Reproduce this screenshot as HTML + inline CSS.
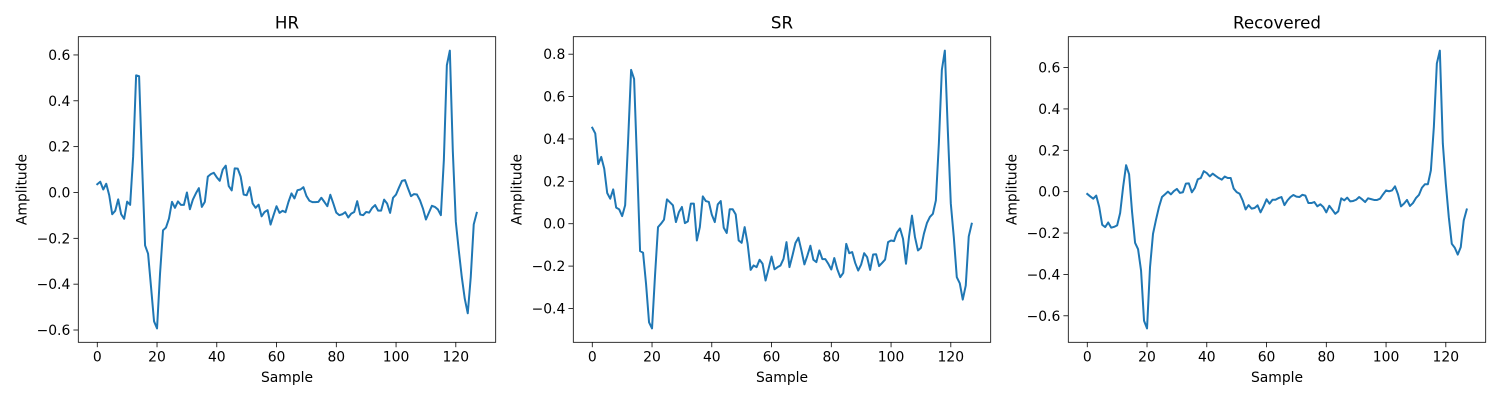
<!DOCTYPE html>
<html><head><meta charset="utf-8"><style>
body{margin:0;background:#fff;}
svg{display:block;font-family:"DejaVu Sans","Liberation Sans",sans-serif;}
</style></head><body>
<svg id="fig" width="1500" height="400" viewBox="0 0 1500 400"></svg>
<script>
const titles = ["HR","SR","Recovered"];
const hrValues = [0.036,0.047,0.013,0.038,-0.012,-0.095,-0.08,-0.03,-0.095,-0.115,-0.04,-0.054,0.156,0.511,0.507,0.12,-0.231,-0.267,-0.413,-0.562,-0.593,-0.355,-0.165,-0.153,-0.114,-0.041,-0.067,-0.039,-0.054,-0.054,0,-0.073,-0.031,-0.004,0.019,-0.063,-0.041,0.069,0.08,0.086,0.066,0.051,0.1,0.117,0.028,0.009,0.105,0.104,0.069,-0.009,-0.012,0.023,-0.048,-0.067,-0.053,-0.104,-0.085,-0.077,-0.14,-0.099,-0.06,-0.089,-0.08,-0.086,-0.041,-0.004,-0.026,0.01,0.013,0.023,-0.015,-0.036,-0.042,-0.042,-0.041,-0.023,-0.041,-0.06,-0.01,-0.048,-0.088,-0.099,-0.095,-0.086,-0.109,-0.092,-0.085,-0.038,-0.096,-0.099,-0.085,-0.088,-0.067,-0.055,-0.079,-0.079,-0.031,-0.048,-0.089,-0.023,-0.009,0.022,0.051,0.054,0.018,-0.016,-0.007,-0.009,-0.034,-0.07,-0.118,-0.088,-0.058,-0.063,-0.074,-0.099,0.142,0.555,0.619,0.18,-0.128,-0.253,-0.369,-0.464,-0.527,-0.369,-0.139,-0.089];
const srValues = [0.453,0.426,0.281,0.315,0.26,0.145,0.118,0.162,0.076,0.068,0.036,0.087,0.394,0.726,0.683,0.284,-0.129,-0.137,-0.284,-0.465,-0.494,-0.244,-0.016,0,0.019,0.115,0.101,0.087,0.008,0.055,0.079,0.003,0.011,0.095,0.095,-0.079,-0.016,0.129,0.107,0.103,0.043,0.008,0.091,0.107,-0.019,-0.044,0.068,0.068,0.044,-0.079,-0.09,-0.016,-0.095,-0.218,-0.197,-0.205,-0.17,-0.189,-0.268,-0.213,-0.155,-0.215,-0.205,-0.197,-0.166,-0.087,-0.205,-0.15,-0.091,-0.066,-0.126,-0.192,-0.15,-0.104,-0.17,-0.181,-0.126,-0.167,-0.167,-0.189,-0.216,-0.162,-0.215,-0.252,-0.232,-0.095,-0.139,-0.134,-0.185,-0.221,-0.192,-0.139,-0.158,-0.218,-0.145,-0.144,-0.2,-0.185,-0.169,-0.087,-0.079,-0.082,-0.041,-0.022,-0.071,-0.189,-0.063,0.038,-0.063,-0.126,-0.114,-0.047,0.003,0.032,0.047,0.11,0.379,0.726,0.817,0.44,0.095,-0.063,-0.252,-0.281,-0.358,-0.292,-0.06,0];
const recValues = [-0.011,-0.023,-0.034,-0.019,-0.074,-0.16,-0.171,-0.149,-0.174,-0.17,-0.163,-0.103,0.023,0.128,0.084,-0.099,-0.247,-0.278,-0.381,-0.624,-0.661,-0.365,-0.204,-0.136,-0.074,-0.026,-0.013,0,-0.013,0.003,0.013,-0.006,-0.003,0.039,0.04,-0.003,0.018,0.06,0.066,0.099,0.09,0.074,0.087,0.076,0.066,0.058,0.073,0.066,0.066,0.015,-0.002,-0.01,-0.042,-0.086,-0.065,-0.082,-0.079,-0.066,-0.1,-0.071,-0.037,-0.058,-0.039,-0.039,-0.031,-0.026,-0.065,-0.042,-0.026,-0.016,-0.024,-0.026,-0.015,-0.019,-0.055,-0.055,-0.05,-0.071,-0.061,-0.074,-0.1,-0.068,-0.087,-0.107,-0.095,-0.032,-0.042,-0.029,-0.047,-0.045,-0.039,-0.026,-0.037,-0.05,-0.032,-0.036,-0.04,-0.04,-0.034,-0.013,0.006,0.002,0.006,0.026,-0.013,-0.071,-0.058,-0.04,-0.069,-0.055,-0.031,-0.016,0.019,0.036,0.036,0.103,0.313,0.62,0.682,0.233,0.039,-0.123,-0.252,-0.271,-0.304,-0.268,-0.139,-0.086];
const xTickLabels = [0,20,40,60,80,100,120];
const series = [hrValues, srValues, recValues];

const NS = "http://www.w3.org/2000/svg";
const svg = document.getElementById("fig");
function mk(tag, attrs, parent){const e=document.createElementNS(NS,tag);for(const k in attrs)e.setAttribute(k,attrs[k]);(parent||svg).appendChild(e);return e;}
const lefts=[78.3,573.3,1068.3], W=417.4, T=36.7, B=342.3;
const slugs=["hr","sr","recovered"];
series.forEach((vals,p)=>{
  const g=mk("g",{});
  
  
  const L=lefts[p];
  const n=vals.length;
  const xm=(n-1)*0.05, x0=-xm, x1=(n-1)+xm;
  const mn=Math.min(...vals), mx=Math.max(...vals), ym=(mx-mn)*0.05;
  const y0=mn-ym, y1=mx+ym;
  const sx=v=>L+(v-x0)/(x1-x0)*W;
  const sy=v=>B-(v-y0)/(y1-y0)*(B-T);
  xTickLabels.forEach(t=>{
    const x=sx(t);
    const tk=mk("line",{x1:x,x2:x,y1:B,y2:B+4.9,stroke:"#000","stroke-width":0.8},g);
    
    
    const tl=mk("text",{x:x,y:B+19,"font-size":13.9,"text-anchor":"middle",fill:"#000"},g);
    
    
    tl.textContent=t;
  });
  for(let k=Math.ceil(y0/0.2-1e-9);k*0.2<=y1+1e-9;k++){
    const v=k*0.2, y=sy(v);
    const tk=mk("line",{x1:L-4.9,x2:L,y1:y,y2:y,stroke:"#000","stroke-width":0.8},g);
    
    
    const tl=mk("text",{x:L-8,y:y+5,"font-size":13.9,"text-anchor":"end",fill:"#000"},g);
    
    
    tl.textContent=(Math.abs(v)<1e-9?0:v).toFixed(1).replace("-","\u2212");
  }
  const pts=vals.map((v,i)=>sx(i).toFixed(2)+","+sy(v).toFixed(2)).join(" ");
  const line=mk("polyline",{points:pts,fill:"none",stroke:"#1f77b4","stroke-width":2,"stroke-linejoin":"round","stroke-linecap":"square"},g);
  
  
  const frame=mk("rect",{x:L,y:T,width:W,height:B-T,fill:"none",stroke:"#000","stroke-width":0.8},g);
  
  
  const tt=mk("text",{x:L+W/2,y:T-8,"font-size":16.7,"text-anchor":"middle",fill:"#000"},g);
  
  
  tt.textContent=titles[p];
  const xl=mk("text",{x:L+W/2,y:382,"font-size":13.9,"text-anchor":"middle",fill:"#000"},g);
  
  
  xl.textContent="Sample";
  const yc=(T+B)/2, yx=L-52;
  const yl=mk("text",{x:yx,y:yc,"font-size":13.9,"text-anchor":"middle",fill:"#000",transform:`rotate(-90 ${yx} ${yc})`},g);
  
  
  yl.textContent="Amplitude";
});
</script>
</body></html>
